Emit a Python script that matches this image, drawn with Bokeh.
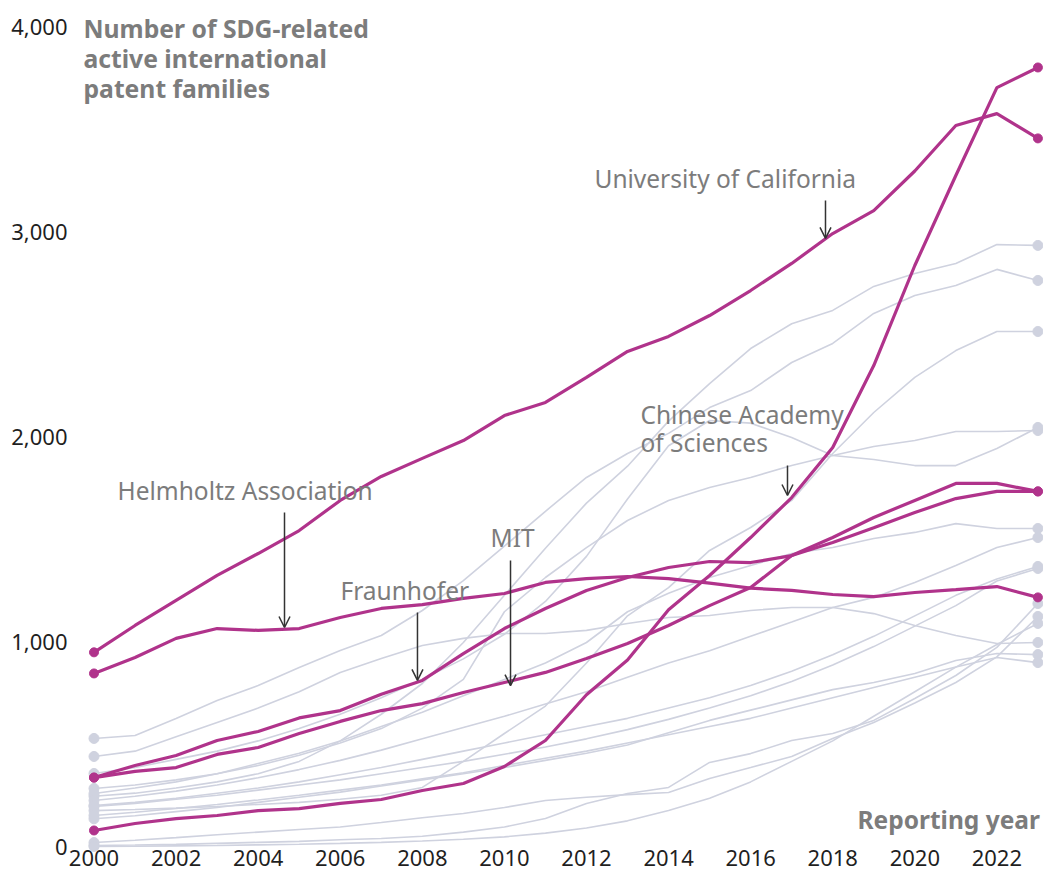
from bokeh.plotting import figure
from bokeh.models import Range1d, FixedTicker, NumeralTickFormatter, Arrow, OpenHead
from bokeh.core.properties import value
from bokeh.embed import file_html
from bokeh.resources import INLINE

years = list(range(2000, 2024))

# Highlighted institutions
uc = [952, 1083, 1205, 1327, 1434, 1546, 1693, 1810, 1898, 1985, 2107, 2171,
      2293, 2420, 2493, 2595, 2717, 2849, 2995, 3107, 3300, 3522, 3580, 3459]
cas = [83, 117, 141, 156, 180, 190, 215, 234, 278, 312, 395, 522,
       745, 915, 1160, 1327, 1512, 1707, 1951, 2351, 2839, 3278, 3707, 3805]
helmholtz = [849, 927, 1020, 1068, 1059, 1068, 1122, 1166, 1185, 1215, 1239, 1293,
             1312, 1322, 1312, 1290, 1265, 1254, 1234, 1224, 1244, 1258, 1273, 1220]
fraunhofer = [341, 400, 449, 522, 566, 632, 668, 748, 815, 946, 1068, 1166,
              1254, 1317, 1366, 1395, 1390, 1424, 1488, 1560, 1634, 1702, 1737, 1737]
mit = [341, 371, 390, 454, 488, 556, 615, 668, 702, 756, 805, 854,
       922, 995, 1083, 1180, 1268, 1424, 1512, 1610, 1693, 1776, 1776, 1737]
highlighted = [uc, cas, helmholtz, fraunhofer, mit]

# Other institutions (grey background lines)
others = [
    [250, 265, 290, 320, 360, 420, 520, 650, 800, 1000, 1230, 1460, 1680, 1860, 2080, 2263, 2434, 2555, 2620, 2737, 2800, 2849, 2941, 2937],
    [532, 546, 629, 717, 790, 878, 961, 1034, 1156, 1302, 1470, 1640, 1805, 1922, 2020, 2146, 2229, 2366, 2459, 2605, 2693, 2741, 2820, 2766],
    [180, 185, 192, 200, 210, 220, 235, 255, 293, 420, 556, 690, 900, 1130, 1268, 1449, 1561, 1693, 1922, 2122, 2293, 2424, 2517, 2517],
    [288, 305, 330, 360, 400, 450, 510, 580, 680, 820, 1150, 1317, 1463, 1595, 1693, 1756, 1805, 1863, 1912, 1956, 1985, 2029, 2029, 2034],
    [361, 390, 430, 470, 520, 580, 650, 730, 820, 920, 1040, 1200, 1420, 1700, 1960, 2083, 2070, 2000, 1912, 1893, 1863, 1863, 1946, 2049],
    [263, 290, 320, 360, 410, 460, 520, 590, 660, 740, 820, 900, 1000, 1150, 1240, 1317, 1376, 1434, 1463, 1507, 1537, 1580, 1556, 1556],
    [229, 250, 275, 305, 340, 380, 425, 475, 530, 585, 640, 700, 760, 830, 900, 960, 1030, 1100, 1171, 1220, 1293, 1376, 1463, 1512],
    [205, 220, 240, 265, 290, 320, 355, 390, 430, 470, 510, 550, 590, 630, 680, 730, 790, 860, 940, 1030, 1130, 1230, 1310, 1371],
    [200, 215, 235, 255, 280, 305, 330, 360, 390, 420, 455, 490, 530, 575, 625, 680, 740, 810, 890, 980, 1080, 1180, 1300, 1361],
    [10, 12, 15, 20, 25, 30, 38, 44, 55, 75, 100, 141, 215, 263, 293, 415, 458, 522, 556, 620, 727, 839, 976, 1190],
    [24, 35, 48, 62, 75, 88, 100, 122, 145, 166, 195, 229, 245, 258, 268, 337, 390, 444, 532, 610, 705, 805, 930, 1127],
    [5, 6, 8, 10, 13, 16, 20, 25, 32, 40, 52, 70, 95, 130, 180, 240, 320, 420, 520, 640, 760, 880, 990, 1093],
    [444, 470, 540, 610, 680, 760, 854, 922, 985, 1020, 1044, 1044, 1059, 1093, 1122, 1132, 1156, 1171, 1171, 1141, 1083, 1034, 995, 1000],
    [140, 155, 175, 195, 220, 245, 270, 300, 330, 360, 390, 425, 460, 500, 560, 620, 670, 720, 770, 805, 849, 912, 946, 941],
    [156, 172, 190, 210, 232, 255, 280, 305, 335, 365, 400, 435, 470, 510, 550, 590, 630, 680, 730, 780, 830, 880, 927, 902],
]

y_ticks = [0, 1000, 2000, 3000, 4000]
x_ticks = list(range(2000, 2023, 2))

title_lines = ["Number of SDG-related", "active international", "patent families"]
x_title = "Reporting year"

MAGENTA = "#b0338b"
GREY = "#cfd2df"
TEXT = "#7c7c7c"
FONT = "Noto Sans"

p = figure(width=1043, height=878, output_backend="svg", toolbar_location=None,
           x_range=Range1d(1999.598, 2023.136), y_range=Range1d(-29.3, 4131.7),
           min_border_left=77, min_border_right=0, min_border_top=0, min_border_bottom=25)
p.outline_line_color = None
p.grid.visible = False
p.background_fill_color = "white"

for ax in (p.xaxis[0], p.yaxis[0]):
    ax.axis_line_color = None
    ax.major_tick_line_color = None
    ax.minor_tick_line_color = None
    ax.major_tick_out = 0
    ax.major_tick_in = 0
    ax.major_label_text_font = FONT
    ax.major_label_text_font_size = "22px"
    ax.major_label_text_color = "#1f1f1f"

p.yaxis.ticker = FixedTicker(ticks=y_ticks)
p.yaxis.formatter = NumeralTickFormatter(format="0,0")
p.yaxis.major_label_standoff = 10
p.xaxis.ticker = FixedTicker(ticks=x_ticks)
p.xaxis.major_label_standoff = -4

# grey lines
for s in others:
    p.line(years, s, line_color=GREY, line_width=1.6)
p.scatter([years[0]] * len(others), [s[0] for s in others], size=10, color=GREY)
p.scatter([years[-1]] * len(others), [s[-1] for s in others], size=10, color=GREY)

# highlighted lines
for s in highlighted:
    p.line(years, s, line_color=MAGENTA, line_width=3.2)
p.scatter([years[0]] * len(highlighted), [s[0] for s in highlighted], size=9, color=MAGENTA)
p.scatter([years[-1]] * len(highlighted), [s[-1] for s in highlighted], size=9, color=MAGENTA)

# titles
p.text(x=[1999.744] * 3, y=[3995, 3849, 3702], text=title_lines,
       text_font=value(FONT), text_font_size="24.7px", text_font_style="bold",
       text_color=TEXT, text_baseline="middle", text_align="left")
p.text(x=[2023.05], y=[137], text=[x_title],
       text_font=value(FONT), text_font_size="24.5px", text_font_style="bold",
       text_color=TEXT, text_baseline="middle", text_align="right")

# annotations
labels = [
    ("University of California", 2012.195, 3263),
    ("Chinese Academy", 2013.316, 2112),
    ("of Sciences", 2013.316, 1976),
    ("Helmholtz Association", 2000.573, 1741),
    ("MIT", 2009.661, 1512),
    ("Fraunhofer", 2006.006, 1254),
]
p.text(x=[l[1] for l in labels], y=[l[2] for l in labels], text=[l[0] for l in labels],
       text_font=value(FONT), text_font_size="24.5px", text_color=TEXT,
       text_baseline="middle", text_align="left")

arrows = [
    (2017.824, 3156, 2971),
    (2016.898, 1863, 1717),
    (2004.642, 1634, 1073),
    (2010.149, 1400, 790),
    (2007.882, 1146, 815),
]
for ax_, ys, ye in arrows:
    p.add_layout(Arrow(end=OpenHead(size=11, line_color="#333333", line_width=1.5),
                       x_start=ax_, y_start=ys, x_end=ax_, y_end=ye,
                       line_color="#333333", line_width=1.5))

open("out.html", "w").write(file_html(p, INLINE))
